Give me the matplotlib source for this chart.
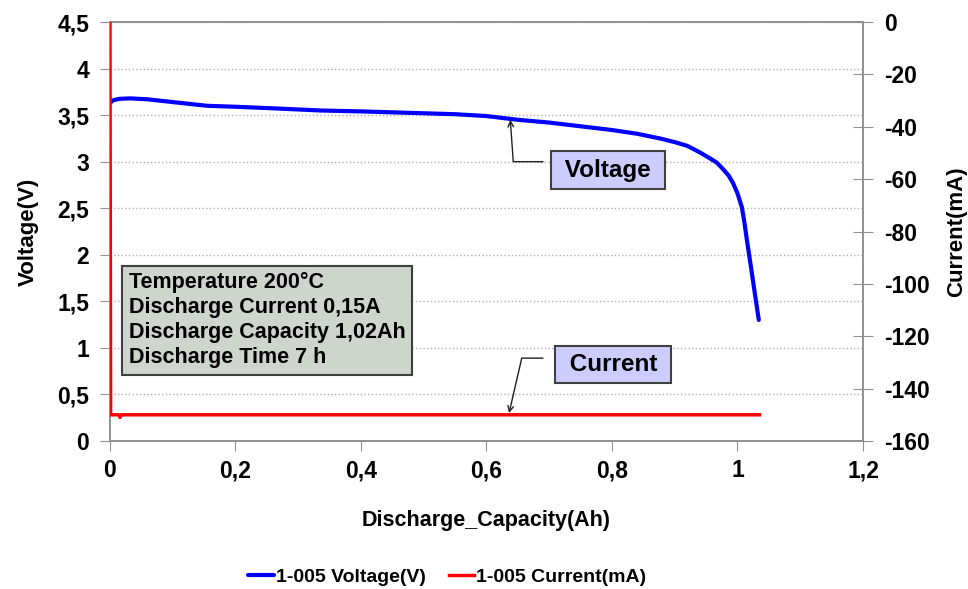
import matplotlib
matplotlib.use('Agg')
import matplotlib.pyplot as plt
from matplotlib.ticker import FuncFormatter, MultipleLocator

plt.rcParams['font.family'] = ['Liberation Sans', 'DejaVu Sans']
plt.rcParams['font.weight'] = 'bold'
plt.rcParams['axes.unicode_minus'] = False

# voltage curve
capacity_v = [0, 0.005, 0.015, 0.032, 0.06, 0.1, 0.155, 0.2, 0.27, 0.335, 0.4,
              0.45, 0.5, 0.55, 0.6, 0.65, 0.7, 0.75, 0.8, 0.84, 0.876, 0.9,
              0.92, 0.94, 0.955, 0.967, 0.977, 0.986, 0.993, 1.0, 1.007, 1.011,
              1.015, 1.019, 1.023, 1.028, 1.034]
voltage = [3.63, 3.66, 3.675, 3.68, 3.67, 3.64, 3.60, 3.59, 3.57, 3.55, 3.54,
           3.53, 3.52, 3.51, 3.49, 3.45, 3.42, 3.38, 3.34, 3.30, 3.25, 3.21,
           3.17, 3.10, 3.04, 2.99, 2.92, 2.85, 2.77, 2.66, 2.51, 2.35,
           2.16, 1.98, 1.80, 1.57, 1.30]

# current trace
capacity_i = [0, 0.001, 0.014, 0.016, 0.018, 1.035]
current = [0, -150, -150, -151, -150, -150]

info_lines = ["Temperature 200°C", "Discharge Current 0,15A",
              "Discharge Capacity 1,02Ah", "Discharge Time 7 h"]


def comma(v, pos):
    s = f"{v:g}"
    return s.replace('.', ',')


fig = plt.figure(figsize=(9.68, 5.89), dpi=100)
ax = fig.add_axes([0.1136, 0.2513, 0.7779, 0.7113])
ax2 = ax.twinx()

lv, = ax.plot(capacity_v, voltage, color='#0000ff', lw=3, solid_capstyle='round',
              solid_joinstyle='round', label='1-005 Voltage(V)', zorder=3)
li, = ax2.plot(capacity_i, current, color='#ff0000', lw=2.5,
               label='1-005 Current(mA)', zorder=3)

ax.set_xlim(0, 1.2)
ax.set_ylim(0, 4.5)
ax2.set_ylim(-160, 0)
ax.xaxis.set_major_locator(MultipleLocator(0.2))
ax.yaxis.set_major_locator(MultipleLocator(0.5))
ax2.yaxis.set_major_locator(MultipleLocator(20))
ax.xaxis.set_major_formatter(FuncFormatter(comma))
ax.yaxis.set_major_formatter(FuncFormatter(comma))

ax.grid(axis='y', color='#b0b0b0', linestyle=':', linewidth=1)
ax.set_axisbelow(True)

for a in (ax, ax2):
    for sp in a.spines.values():
        sp.set_color('#909090')
        sp.set_linewidth(1.2)

ax.tick_params(axis='x', direction='out', length=7, color='#909090',
               labelsize=16.5, pad=6)
ax.tick_params(axis='y', direction='out', length=7, color='#909090',
               labelsize=16.5, pad=8)
ax2.tick_params(axis='y', direction='inout', length=14, color='#909090',
                labelsize=16.5, pad=8)

ax.set_xlabel('Discharge_Capacity(Ah)', fontsize=15.5, fontweight='bold', labelpad=20)
ax.set_ylabel('Voltage(V)', fontsize=16, fontweight='bold', labelpad=13)
ax2.set_ylabel('Current(mA)', fontsize=16, fontweight='bold', labelpad=12)

# info box
ax.text(0.03, 1.295, "\n".join(info_lines), fontsize=15.5, fontweight='bold',
        ha='left', va='center', linespacing=1.25, zorder=4,
        bbox=dict(boxstyle='square,pad=0.3', fc='#cdd5cd', ec='#404040', lw=1.5))

# callouts
box = dict(boxstyle='square,pad=0.3', fc='#ccccff', ec='#404040', lw=1.5)
ax.text(0.793, 2.91, ' Voltage ', fontsize=17.5, fontweight='bold', ha='center',
        va='center', bbox=box, zorder=5)
ax.annotate('', xy=(0.638, 3.45), xytext=(0.69, 3.0),
            arrowprops=dict(arrowstyle='->', color='#202020', lw=1,
                            connectionstyle='angle,angleA=180,angleB=94,rad=0',
                            shrinkA=0, shrinkB=0), zorder=5)
ax.text(0.802, 0.82, ' Current ', fontsize=17.5, fontweight='bold', ha='center',
        va='center', bbox=box, zorder=5)
ax.annotate('', xy=(0.636, 0.30), xytext=(0.69, 0.89),
            arrowprops=dict(arrowstyle='->', color='#202020', lw=1,
                            connectionstyle='angle,angleA=180,angleB=77,rad=0',
                            shrinkA=0, shrinkB=0), zorder=5)

fig.legend(handles=[lv, li], loc='center', bbox_to_anchor=(0.462, 0.0204),
           ncol=2, frameon=False, fontsize=14, handlelength=1.3,
           handletextpad=0.1, columnspacing=1.2)

fig.savefig('out.png', dpi=100)
